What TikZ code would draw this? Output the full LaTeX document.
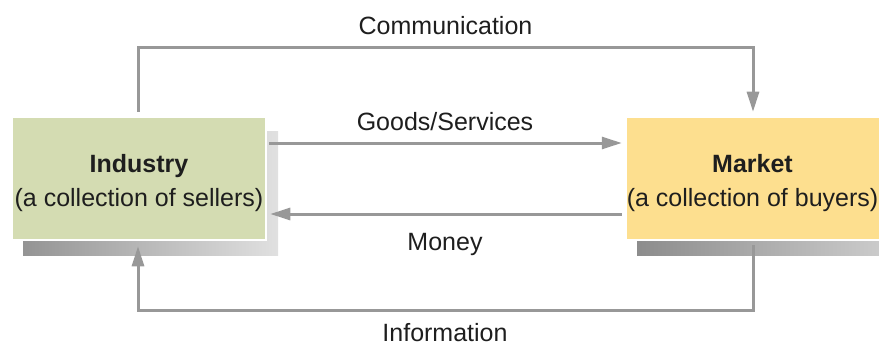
\documentclass[tikz,border=0pt]{standalone}
\usepackage{fontspec}
\setmainfont{Liberation Sans}
\usetikzlibrary{arrows.meta}
\definecolor{indfill}{HTML}{D4DCB2}
\definecolor{mktfill}{HTML}{FDDF8F}
\definecolor{linegray}{HTML}{989898}
\definecolor{txt}{HTML}{1E1E1E}
\begin{document}
\begin{tikzpicture}[x=1pt,y=-1pt,
  lbl/.style={font=\fontsize{25}{30}\selectfont, text=txt, inner sep=0pt},
  boldlbl/.style={font=\fontsize{25}{30}\selectfont\bfseries, text=txt, inner sep=0pt},
  box/.style={draw=white, line width=2.5pt, minimum height=123pt, inner sep=0pt},
  conn/.style={draw=linegray, line width=3pt},
  arr/.style={conn, -{Triangle[length=20pt,width=12pt]}}
]
\useasboundingbox (0,0) rectangle (879,345);
% shadows
\shade[left color=black!42, right color=black!12] (23,131) rectangle (278,255);
\shade[left color=black!45, right color=black!20] (637,131) rectangle (885,255);
% boxes
\node[box, fill=indfill, minimum width=254pt] (ind) at (139,178.5) {};
\node[box, fill=mktfill, minimum width=256pt] (mkt) at (754,178.5) {};
% box texts
\node[boldlbl, anchor=base] (indT) at (139,172) {Industry};
\node[lbl, anchor=base] (indS) at (139,206) {(a collection of sellers)};
\node[boldlbl, anchor=base] (mktT) at (752.5,172) {Market};
\node[lbl, anchor=base] (mktS) at (752.5,206) {(a collection of buyers)};
% connector labels
\node[lbl, anchor=base] (comm) at (445.5,35) {Communication};
\node[lbl, anchor=base] (goods) at (445,130) {Goods/Services};
\node[lbl, anchor=base] (money) at (445,250) {Money};
\node[lbl, anchor=base] (info) at (445,341) {Information};
% connectors
\draw[arr] ([shift={(-1pt,4pt)}]ind.north) -- ([shift={(-1pt,68pt)}]ind.north)
  -| ([shift={(-1pt,4pt)}]mkt.north);
\draw[arr] ([shift={(2pt,35.5pt)}]ind.east) -- ([shift={(-3pt,35.5pt)}]mkt.west);
\draw[arr] ([shift={(-3pt,-35.5pt)}]mkt.west) -- ([shift={(3pt,-35.5pt)}]ind.east);
\draw[arr] ([shift={(-1pt,-4pt)}]mkt.south) -- ([shift={(-1pt,-69pt)}]mkt.south)
  -| ([shift={(-1pt,-5pt)}]ind.south);
\end{tikzpicture}
\end{document}
